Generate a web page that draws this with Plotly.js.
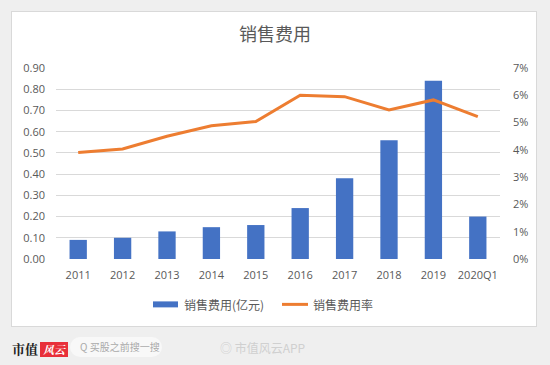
<!DOCTYPE html>
<html>
<head>
<meta charset="utf-8">
<script src="https://cdn.plot.ly/plotly-3.0.1.min.js"></script>
<style>
  html, body { margin:0; padding:0; }
  body { width:550px; height:365px; background:#efefef; position:relative; overflow:hidden; font-family:"Noto Sans CJK SC","Noto Sans",sans-serif; }
  #panel { position:absolute; left:11px; top:11px; width:526px; height:316px; background:#ffffff; border:1px solid #d9d9d9; box-sizing:border-box; }
  #chart { position:absolute; left:0; top:0; width:550px; height:365px; }
  #logo { position:absolute; left:12px; top:339px; font-family:"Noto Serif CJK SC","Noto Sans CJK SC",serif; font-weight:bold; font-size:13px; color:#222; }
  #logo span.red { display:inline-block; background:#e8303a; color:#fff; font-style:italic; font-size:11px; padding:0 3px; margin-left:2px; line-height:15px; }
  #search { position:absolute; left:70px; top:337px; width:92px; height:20px; border-radius:10px; background:#f8f8f8; font-size:10px; color:#aaa; line-height:20px; padding-left:10px; box-sizing:border-box; }
  #app { position:absolute; left:220px; top:339px; font-size:12px; color:#d0d0d0; }
</style>
</head>
<body>
<div id="panel"></div>
<div id="chart"></div>
<div id="logo">市值<span class="red">风云</span></div>
<div id="search">Q 买股之前搜一搜</div>
<div id="app">◎ 市值风云APP</div>
<script>
const categories = ["2011","2012","2013","2014","2015","2016","2017","2018","2019","2020Q1"];
const expense = [0.09, 0.10, 0.13, 0.15, 0.16, 0.24, 0.38, 0.56, 0.84, 0.20];
const expenseRate = [0.039, 0.0403, 0.045, 0.0488, 0.0504, 0.0600, 0.0595, 0.0546, 0.0583, 0.0522];
const leftTicks = [0,0.1,0.2,0.3,0.4,0.5,0.6,0.7,0.8,0.9];
const leftTickText = ["0.00","0.10","0.20","0.30","0.40","0.50","0.60","0.70","0.80","0.90"];
const rightTicks = [0,0.01,0.02,0.03,0.04,0.05,0.06,0.07];
const rightTickText = ["0%","1%","2%","3%","4%","5%","6%","7%"];
const seriesNames = ["销售费用(亿元)","销售费用率"];
const titleText = "销售费用";
const barColor = "#4472C4";
const lineColor = "#ED7D31";

const tickFont = {family:"Open Sans, Noto Sans CJK SC, sans-serif", size:11, color:"#595959"};
const legendFont = {family:"Noto Sans CJK SC, sans-serif", size:12, color:"#595959"};

const traces = [
  {type:"bar", x:categories, y:expense, name:seriesNames[0], marker:{color:barColor}, yaxis:"y"},
  {type:"scatter", mode:"lines", x:categories, y:expenseRate, name:seriesNames[1], line:{color:lineColor, width:3}, yaxis:"y2"}
];

// plot area in pixels: x 56..500, y 68..259.5
const PX = {l:56, r:500, t:68, b:259.5};
const px2x = p => (p - PX.l) / (PX.r - PX.l);
const px2y = p => (PX.b - p) / (PX.b - PX.t);
const legY = 305;

const layout = {
  width:550, height:365,
  paper_bgcolor:"rgba(0,0,0,0)", plot_bgcolor:"rgba(0,0,0,0)",
  margin:{l:56, r:50, t:68, b:105.5},
  bargap:0.61,
  showlegend:false,
  title:{text:titleText, font:{family:"Noto Sans CJK SC, sans-serif", size:18, color:"#595959"}, x:0.5, xanchor:"center", y:1-35/365, yanchor:"middle", yref:"container"},
  xaxis:{type:"category", tickfont:tickFont, showgrid:false, zeroline:false, showline:false, ticks:"", ticklabelstandoff:8},
  yaxis:{range:[0,0.9], tickvals:leftTicks, ticktext:leftTickText, tickfont:tickFont, showgrid:true, gridcolor:"#d9d9d9", gridwidth:1, zeroline:false, showline:false, ticks:"", ticklabelstandoff:10},
  yaxis2:{range:[0,0.07], overlaying:"y", side:"right", tickvals:rightTicks, ticktext:rightTickText, tickfont:tickFont, showgrid:false, zeroline:false, showline:false, ticks:"", ticklabelstandoff:12},
  shapes:[
    {type:"rect", xref:"paper", yref:"paper", x0:px2x(153), x1:px2x(178), y0:px2y(308), y1:px2y(302), fillcolor:barColor, line:{width:0}},
    {type:"line", xref:"paper", yref:"paper", x0:px2x(282), x1:px2x(308), y0:px2y(legY), y1:px2y(legY), line:{color:lineColor, width:3}}
  ],
  annotations:[
    {xref:"paper", yref:"paper", x:px2x(182), y:px2y(legY), xanchor:"left", yanchor:"middle", text:seriesNames[0], showarrow:false, font:legendFont},
    {xref:"paper", yref:"paper", x:px2x(311), y:px2y(legY), xanchor:"left", yanchor:"middle", text:seriesNames[1], showarrow:false, font:legendFont}
  ]
};

Plotly.newPlot("chart", traces, layout, {displayModeBar:false, staticPlot:true});
</script>
</body>
</html>
